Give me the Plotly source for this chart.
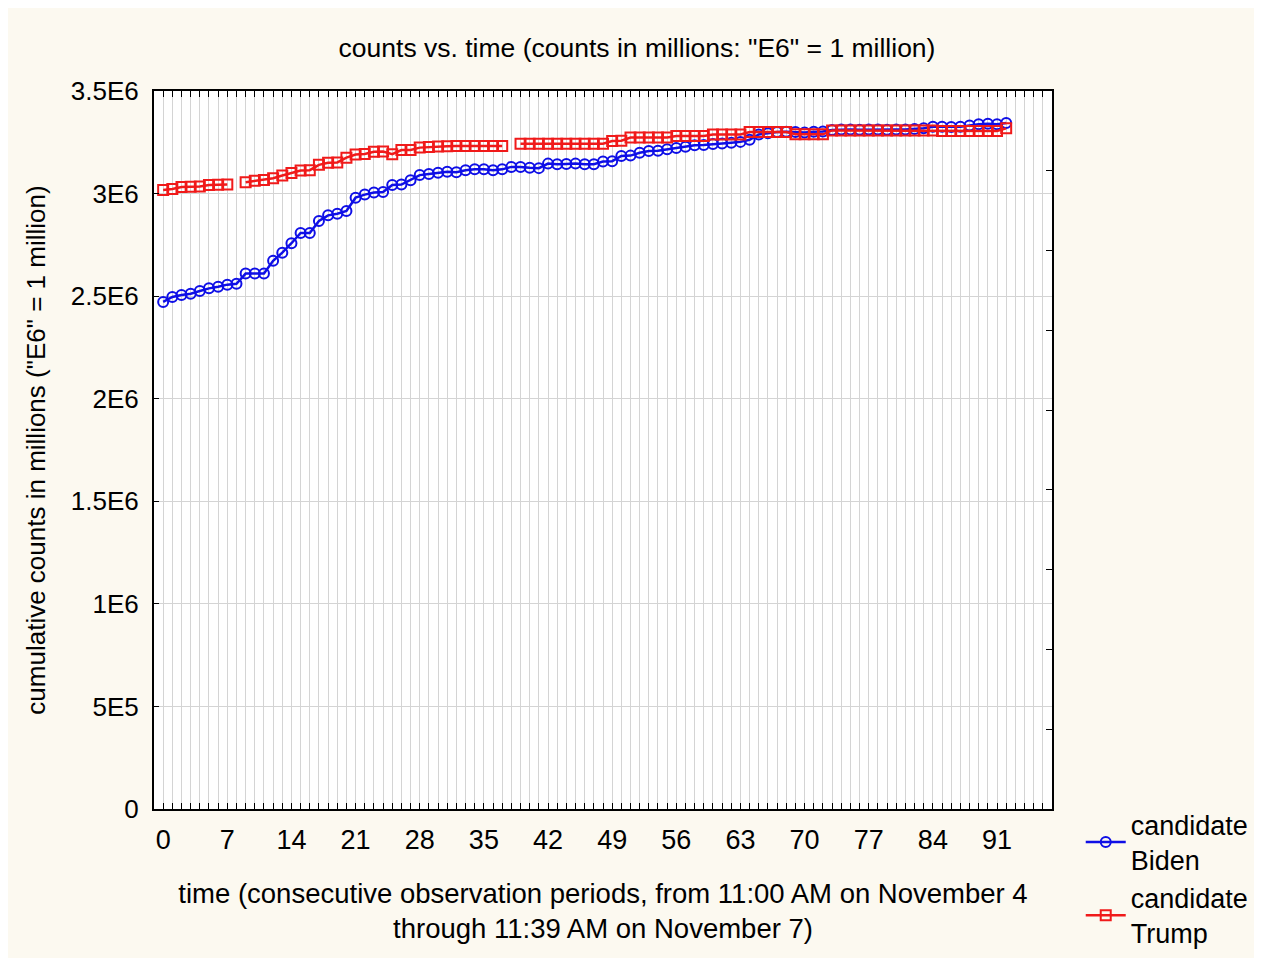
import plotly.graph_objects as go

# ---- data (values in millions) ----
periods = list(range(93))

biden_m = [2.472, 2.496, 2.506, 2.512, 2.525, 2.538, 2.546, 2.556, 2.560, 2.610,
           2.610, 2.610, 2.672, 2.712, 2.758, 2.808, 2.808, 2.866, 2.894, 2.902,
           2.915, 2.980, 2.995, 3.005, 3.008, 3.042, 3.044, 3.065, 3.090, 3.095,
           3.102, 3.106, 3.104, 3.114, 3.118, 3.118, 3.114, 3.118, 3.130, 3.130,
           3.126, 3.124, 3.146, 3.143, 3.144, 3.146, 3.143, 3.143, 3.156, 3.158,
           3.183, 3.185, 3.199, 3.208, 3.209, 3.216, 3.222, 3.228, 3.236, 3.237,
           3.242, 3.244, 3.248, 3.252, 3.262, 3.288, 3.294, 3.300, 3.301, 3.300,
           3.298, 3.301, 3.303, 3.310, 3.312, 3.312, 3.311, 3.312, 3.312, 3.311,
           3.312, 3.312, 3.315, 3.318, 3.326, 3.326, 3.325, 3.326, 3.332, 3.338,
           3.340, 3.338, 3.344]

trump_m = [3.018, 3.022, 3.032, 3.033, 3.034, 3.042, 3.043, 3.044, None, 3.055,
           3.062, 3.066, 3.075, 3.088, 3.100, 3.112, 3.114, 3.140, 3.150, 3.152,
           3.175, 3.190, 3.193, 3.204, 3.205, 3.192, 3.212, 3.213, 3.224, 3.227,
           3.230, 3.231, 3.232, 3.232, 3.232, 3.232, 3.232, 3.232, None, 3.243,
           3.243, 3.243, 3.243, 3.243, 3.243, 3.243, 3.243, 3.243, 3.243, 3.256,
           3.258, 3.273, 3.273, 3.273, 3.273, 3.273, 3.281, 3.281, 3.281, 3.281,
           3.288, 3.288, 3.288, 3.288, 3.300, 3.300, 3.300, 3.300, 3.300, 3.289,
           3.289, 3.289, 3.289, 3.308, 3.308, 3.308, 3.308, 3.308, 3.308, 3.308,
           3.308, 3.308, 3.308, 3.308, 3.308, 3.305, 3.305, 3.305, 3.305, 3.305,
           3.305, 3.305, 3.318]

series_names = ["candidate<br>Biden", "candidate<br>Trump"]

y_tickvals = [0, 0.5e6, 1e6, 1.5e6, 2e6, 2.5e6, 3e6, 3.5e6]
y_ticktext = ["0", "5E5", "1E6", "1.5E6", "2E6", "2.5E6", "3E6", "3.5E6"]
x_tickvals = [0, 7, 14, 21, 28, 35, 42, 49, 56, 63, 70, 77, 84, 91]

biden = [v * 1e6 for v in biden_m]
trump = [v * 1e6 if v is not None else None for v in trump_m]

BLUE = "#0f0fe6"
RED = "#f01a1a"
GRID = "#d4d4d4"
FONT = "Liberation Sans, Arial, sans-serif"

fig = go.Figure()
fig.add_trace(go.Scatter(
    x=periods, y=biden, name=series_names[0], mode="lines+markers",
    line=dict(color=BLUE, width=2.5),
    marker=dict(symbol="circle-open", size=10, color=BLUE, line=dict(width=2, color=BLUE)),
))
fig.add_trace(go.Scatter(
    x=periods, y=trump, name=series_names[1], mode="lines+markers",
    connectgaps=False,
    line=dict(color=RED, width=2.5),
    marker=dict(symbol="square-open", size=10, color=RED, line=dict(width=2, color=RED)),
))
# empty trace so the right-hand tick axis is drawn
fig.add_trace(go.Scatter(x=[], y=[], yaxis="y2", showlegend=False, hoverinfo="skip"))

fig.update_layout(
    width=1262, height=958,
    paper_bgcolor="#fcf9f0",
    plot_bgcolor="white",
    font=dict(family=FONT, color="black", size=26),
    margin=dict(l=146, r=218, t=83, b=157, autoexpand=False),
    title=dict(text='counts vs. time (counts in millions: "E6" = 1 million)',
               x=(637 - 8) / 1262, xanchor="center", y=1 - 40 / 958, yanchor="middle",
               yref="container", font=dict(size=26.5)),
    showlegend=True,
    legend=dict(x=1.032, xanchor="left", y=0.012, yanchor="top",
                bgcolor="rgba(0,0,0,0)", font=dict(size=27),
                itemwidth=40, tracegroupgap=0),
    xaxis=dict(
        range=[-1, 97], tickmode="array", tickvals=x_tickvals,
        automargin=False,
        ticks="inside", ticklen=6, tickcolor="black", tickwidth=1,
        showline=True, linecolor="black", linewidth=2, mirror="allticks",
        showgrid=True, gridcolor=GRID, gridwidth=1,
        minor=dict(dtick=1, tick0=0, ticks="inside", ticklen=5, tickcolor="black",
                   showgrid=True, gridcolor=GRID, gridwidth=1),
        zeroline=False,
        tickfont=dict(size=27),
        ticklabelstandoff=6,
        title=dict(text="time (consecutive observation periods, from 11:00 AM on November 4<br>through 11:39 AM on November 7)",
                   font=dict(size=27.5), standoff=29),
    ),
    yaxis=dict(
        range=[0, 3.5e6], tickmode="array", tickvals=y_tickvals, ticktext=y_ticktext,
        automargin=False,
        ticks="inside", ticklen=5, tickcolor="black",
        showline=True, linecolor="black", linewidth=2, mirror=True,
        showgrid=True, gridcolor=GRID, gridwidth=1,
        zeroline=False,
        tickfont=dict(size=26),
        ticklabelstandoff=8,
        title=dict(text='cumulative counts in millions ("E6" = 1 million)',
                   font=dict(size=26), standoff=18),
    ),
    yaxis2=dict(
        overlaying="y", side="right", range=[0, 9], dtick=1,
        automargin=False,
        ticks="inside", ticklen=6, tickcolor="black",
        showticklabels=False, showgrid=False, zeroline=False, showline=False,
    ),
)

fig.write_html("out.html")
